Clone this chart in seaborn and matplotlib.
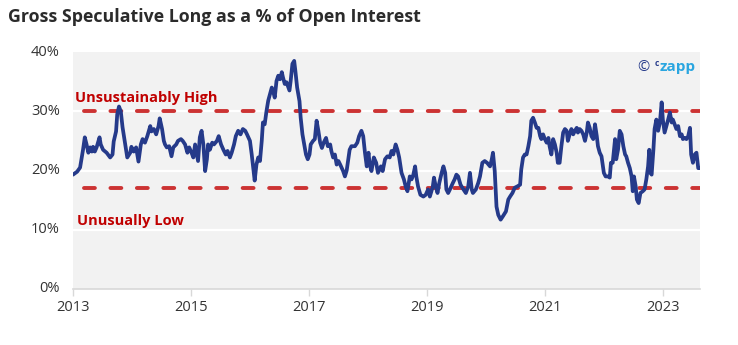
import matplotlib
matplotlib.use("Agg")
import matplotlib.pyplot as plt
import seaborn as sns
import pandas as pd

# decimal years and gross speculative long (% of open interest)
years = [
    2013.00, 2013.07, 2013.12, 2013.17, 2013.20, 2013.23, 2013.26, 2013.29, 2013.32, 2013.34,
    2013.37, 2013.40, 2013.45, 2013.47, 2013.51, 2013.57, 2013.63, 2013.67, 2013.69, 2013.73,
    2013.75, 2013.78, 2013.81, 2013.84, 2013.88, 2013.92, 2013.97, 2013.99, 2014.03, 2014.07,
    2014.11, 2014.15, 2014.18, 2014.22, 2014.26, 2014.31, 2014.33, 2014.37, 2014.41, 2014.45,
    2014.47, 2014.51, 2014.54, 2014.56, 2014.59, 2014.63, 2014.67, 2014.70, 2014.75, 2014.78,
    2014.83, 2014.86, 2014.90, 2014.94, 2014.97, 2015.01, 2015.04, 2015.07, 2015.10, 2015.12,
    2015.15, 2015.18, 2015.21, 2015.24, 2015.27, 2015.29, 2015.32, 2015.36, 2015.39, 2015.44,
    2015.47, 2015.51, 2015.55, 2015.59, 2015.62, 2015.66, 2015.69, 2015.73, 2015.76, 2015.80,
    2015.84, 2015.88, 2015.92, 2015.95, 2016.00, 2016.03, 2016.06, 2016.08, 2016.11, 2016.14,
    2016.17, 2016.20, 2016.22, 2016.25, 2016.28, 2016.31, 2016.34, 2016.37, 2016.39, 2016.42,
    2016.45, 2016.48, 2016.51, 2016.54, 2016.56, 2016.59, 2016.62, 2016.67, 2016.69, 2016.72,
    2016.75, 2016.77, 2016.80, 2016.84, 2016.86, 2016.89, 2016.92, 2016.95, 2016.98, 2017.01,
    2017.03, 2017.07, 2017.10, 2017.13, 2017.16, 2017.19, 2017.22, 2017.25, 2017.29, 2017.32,
    2017.36, 2017.38, 2017.41, 2017.44, 2017.47, 2017.50, 2017.53, 2017.58, 2017.61, 2017.64,
    2017.69, 2017.72, 2017.78, 2017.82, 2017.85, 2017.89, 2017.92, 2017.95, 2017.98, 2018.01,
    2018.03, 2018.06, 2018.10, 2018.14, 2018.17, 2018.22, 2018.25, 2018.29, 2018.33, 2018.37,
    2018.40, 2018.43, 2018.47, 2018.50, 2018.53, 2018.57, 2018.61, 2018.64, 2018.67, 2018.71,
    2018.74, 2018.77, 2018.80, 2018.82, 2018.85, 2018.89, 2018.94, 2018.98, 2019.02, 2019.05,
    2019.10, 2019.12, 2019.15, 2019.18, 2019.21, 2019.25, 2019.28, 2019.31, 2019.33, 2019.36,
    2019.39, 2019.44, 2019.47, 2019.50, 2019.53, 2019.57, 2019.62, 2019.66, 2019.70, 2019.73,
    2019.76, 2019.78, 2019.83, 2019.87, 2019.90, 2019.94, 2019.98, 2020.02, 2020.07, 2020.10,
    2020.12, 2020.15, 2020.18, 2020.21, 2020.25, 2020.29, 2020.34, 2020.38, 2020.41, 2020.45,
    2020.49, 2020.53, 2020.58, 2020.60, 2020.63, 2020.66, 2020.69, 2020.72, 2020.75, 2020.77,
    2020.80, 2020.83, 2020.86, 2020.89, 2020.92, 2020.94, 2020.97, 2021.00, 2021.03, 2021.06,
    2021.08, 2021.11, 2021.14, 2021.17, 2021.20, 2021.22, 2021.25, 2021.28, 2021.31, 2021.34,
    2021.37, 2021.39, 2021.42, 2021.45, 2021.48, 2021.51, 2021.54, 2021.56, 2021.59, 2021.62,
    2021.65, 2021.68, 2021.71, 2021.73, 2021.76, 2021.79, 2021.82, 2021.85, 2021.88, 2021.90,
    2021.93, 2021.96, 2022.00, 2022.03, 2022.07, 2022.10, 2022.12, 2022.15, 2022.19, 2022.21,
    2022.24, 2022.27, 2022.30, 2022.33, 2022.36, 2022.38, 2022.41, 2022.44, 2022.47, 2022.49,
    2022.51, 2022.54, 2022.56, 2022.59, 2022.62, 2022.66, 2022.69, 2022.72, 2022.75, 2022.77,
    2022.79, 2022.81, 2022.84, 2022.86, 2022.89, 2022.92, 2022.95, 2022.98, 2023.00, 2023.03,
    2023.06, 2023.09, 2023.12, 2023.15, 2023.17, 2023.20, 2023.23, 2023.26, 2023.29, 2023.32,
    2023.34, 2023.37, 2023.40, 2023.43, 2023.46, 2023.48, 2023.51, 2023.54, 2023.57, 2023.60,
    2023.63,
]
values = [
    19.3, 19.8, 20.5, 23.5, 25.6, 24.4, 23.0, 23.9, 23.2, 24.0,
    23.2, 23.9, 25.6, 24.4, 23.5, 23.0, 22.2, 22.7, 24.9, 26.6,
    29.5, 30.8, 30.0, 27.3, 24.7, 22.2, 23.0, 24.0, 23.2, 23.9,
    21.5, 24.4, 25.3, 24.7, 25.8, 27.5, 26.6, 27.0, 26.1, 27.5,
    28.8, 27.0, 25.0, 24.4, 23.9, 24.1, 22.4, 23.9, 24.4, 25.0,
    25.3, 25.0, 24.4, 23.0, 23.9, 23.0, 22.2, 24.4, 22.7, 21.6,
    25.6, 26.7, 24.4, 19.9, 21.9, 24.4, 23.5, 24.7, 24.4, 25.0,
    25.8, 24.4, 23.5, 22.7, 23.3, 22.2, 23.0, 24.4, 25.8, 26.7,
    26.1, 27.0, 26.7, 26.1, 25.0, 22.7, 20.0, 18.3, 21.0, 22.2,
    21.6, 25.0, 28.1, 27.8, 30.0, 31.8, 32.9, 34.0, 33.5, 32.3,
    35.1, 36.0, 35.4, 36.6, 35.7, 34.6, 34.9, 33.5, 35.1, 38.0,
    38.5, 36.8, 34.0, 31.7, 28.9, 26.1, 24.4, 22.7, 21.9, 22.7,
    24.4, 25.0, 25.3, 28.4, 26.7, 24.7, 23.8, 24.7, 25.5, 24.1,
    24.4, 23.3, 22.2, 22.7, 21.0, 21.6, 21.0, 19.9, 19.0, 20.0,
    23.5, 24.1, 24.1, 24.7, 25.8, 26.7, 25.8, 23.0, 20.7, 23.0,
    21.0, 19.9, 22.2, 21.3, 19.6, 20.7, 19.9, 21.9, 22.4, 22.2,
    23.3, 22.7, 24.4, 23.5, 22.2, 19.6, 18.5, 17.3, 16.5, 19.0,
    18.5, 19.3, 20.7, 19.0, 17.3, 15.9, 15.6, 15.9, 16.8, 15.6,
    17.3, 18.8, 17.3, 16.2, 17.9, 19.6, 20.7, 19.6, 16.8, 16.2,
    16.8, 17.9, 18.5, 19.3, 19.0, 17.6, 16.8, 16.2, 17.3, 19.6,
    16.8, 16.2, 16.8, 17.9, 19.0, 21.3, 21.6, 21.3, 20.7, 21.9,
    23.0, 19.9, 13.9, 12.5, 11.7, 12.3, 13.1, 15.1, 15.6, 16.2,
    17.1, 17.3, 17.6, 20.2, 22.2, 22.7, 22.7, 24.1, 25.8, 28.4,
    28.9, 28.1, 27.2, 27.2, 25.8, 25.3, 26.1, 25.3, 24.7, 25.5,
    24.1, 22.7, 25.3, 24.4, 23.0, 21.3, 21.3, 24.1, 26.4, 27.0,
    26.7, 25.0, 26.1, 27.0, 26.1, 26.7, 27.2, 26.4, 27.0, 26.7,
    26.1, 25.0, 26.4, 28.1, 27.2, 25.8, 25.3, 27.8, 25.8, 24.1,
    23.0, 22.4, 19.6, 19.0, 19.0, 18.8, 21.3, 21.3, 25.3, 21.9,
    23.5, 26.7, 26.1, 24.1, 22.7, 22.4, 21.3, 20.4, 19.0, 16.5,
    19.0, 17.3, 15.1, 14.5, 16.2, 16.5, 16.8, 18.5, 20.7, 23.5,
    19.6, 19.3, 23.5, 27.0, 28.6, 26.7, 28.1, 31.5, 28.6, 26.4,
    27.5, 28.6, 29.8, 28.1, 28.6, 27.8, 27.0, 27.5, 25.8, 26.1,
    25.3, 25.5, 25.3, 25.8, 27.2, 22.7, 21.3, 22.7, 23.0, 20.4,
    20.4,
]
high_level = 30
low_level = 17
high_label = "Unsustainably High"
low_label = "Unusually Low"
x_ticks = [2013, 2015, 2017, 2019, 2021, 2023]
y_ticks = [0, 10, 20, 30, 40]
title = "Gross Speculative Long as a % of Open Interest"

df = pd.DataFrame({"year": years, "pct": values})

sns.set_style("white")
plt.rcParams["font.family"] = ["Open Sans", "DejaVu Sans"]

fig = plt.figure(figsize=(7.38, 3.45), dpi=100)
ax = fig.add_axes([73 / 738, 1 - 289 / 345, (700 - 73) / 738, (289 - 52) / 345])
ax.set_facecolor("#f2f2f2")

for yv in [10, 20, 30]:
    ax.axhline(yv, color="white", lw=1.6, zorder=1)

red = "#cc3333"
for lvl in (high_level, low_level):
    ln = ax.axhline(lvl, xmin=0.017, color=red, lw=2.8, zorder=2)
    ln.set_dashes((2.8, 4.0))
    ln.set_dash_capstyle("round")

sns.lineplot(data=df, x="year", y="pct", ax=ax, color="#253a8a", lw=2.7, zorder=3)

ax.set_xlim(2013, 2023.63)
ax.set_ylim(0, 40)
ax.set_xticks(x_ticks)
ax.set_xticklabels([str(t) for t in x_ticks])
ax.set_yticks(y_ticks)
ax.set_yticklabels([f"{t}%" for t in y_ticks])
ax.set_xlabel("")
ax.set_ylabel("")

for s in ["top", "right", "left"]:
    ax.spines[s].set_visible(False)
ax.spines["bottom"].set_color("#d8d8d8")
ax.spines["bottom"].set_linewidth(1.2)
ax.tick_params(axis="x", which="both", bottom=True, length=5, width=1, color="#d8d8d8",
               labelsize=10.5, labelcolor="#333333", pad=3)
ax.tick_params(axis="y", which="both", left=False, labelsize=10.5, labelcolor="#333333", pad=6)
for lab in ax.get_yticklabels():
    lab.set_verticalalignment("center")

ax.text(2013.04, 32.2, high_label, color="#c00000", fontsize=10.5, fontweight="bold",
        va="center", ha="left")
ax.text(2013.07, 11.5, low_label, color="#c00000", fontsize=10.5, fontweight="bold",
        va="center", ha="left")

# logo
ax.text(0.920, 0.935, "©", transform=ax.transAxes, color="#253a8a", fontsize=10.5,
        ha="right", va="center")
ax.text(0.927, 0.95, "c", transform=ax.transAxes, color="#253a8a", fontsize=6,
        ha="left", va="center", fontweight="bold")
ax.text(0.935, 0.935, "zapp", transform=ax.transAxes, color="#2aa6e0", fontsize=11,
        ha="left", va="center", fontweight="bold")

fig.text(8 / 738, 1 - 17 / 345, title, fontsize=12.8, fontweight="bold", color="#2b2b2b",
         ha="left", va="center")

fig.savefig("out.png", dpi=100)
